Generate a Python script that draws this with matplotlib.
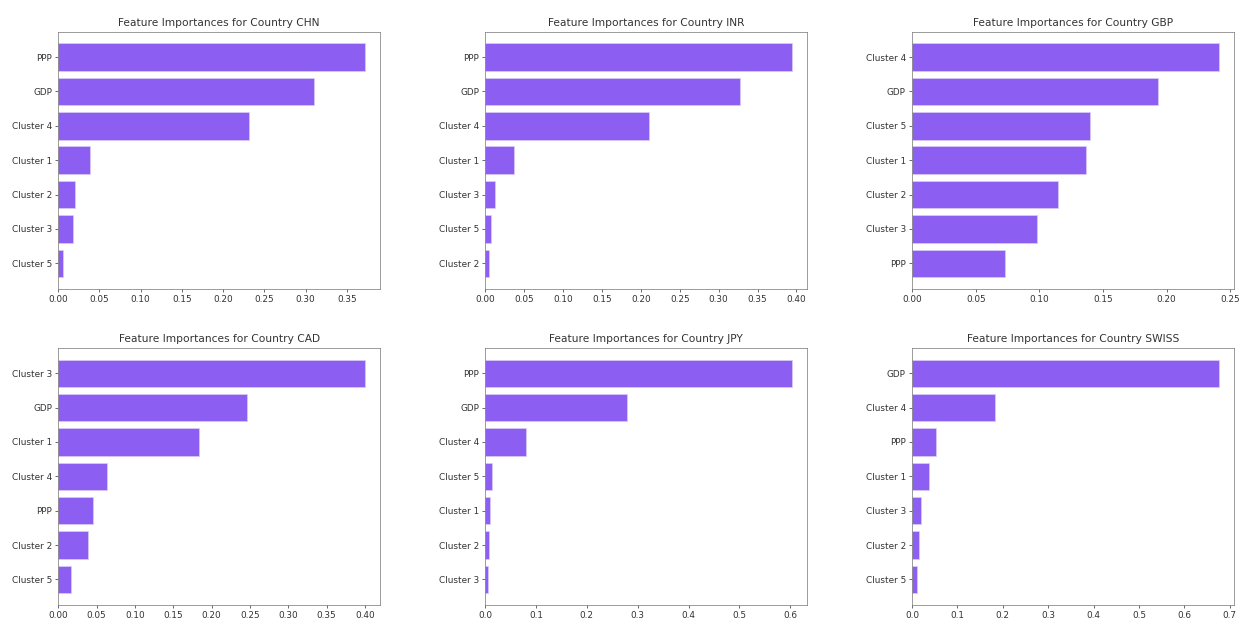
import matplotlib
matplotlib.use("Agg")
import matplotlib.pyplot as plt

# 每个国家的特征重要性（从大到小排列）
countries = ["CHN", "INR", "GBP", "CAD", "JPY", "SWISS"]

chn_features = ["PPP", "GDP", "Cluster 4", "Cluster 1", "Cluster 2", "Cluster 3", "Cluster 5"]
chn_values = [0.372, 0.310, 0.231, 0.038, 0.020, 0.018, 0.006]

inr_features = ["PPP", "GDP", "Cluster 4", "Cluster 1", "Cluster 3", "Cluster 5", "Cluster 2"]
inr_values = [0.394, 0.327, 0.210, 0.037, 0.013, 0.007, 0.005]

gbp_features = ["Cluster 4", "GDP", "Cluster 5", "Cluster 1", "Cluster 2", "Cluster 3", "PPP"]
gbp_values = [0.241, 0.1935, 0.140, 0.137, 0.115, 0.098, 0.073]

cad_features = ["Cluster 3", "GDP", "Cluster 1", "Cluster 4", "PPP", "Cluster 2", "Cluster 5"]
cad_values = [0.400, 0.246, 0.184, 0.063, 0.045, 0.039, 0.017]

jpy_features = ["PPP", "GDP", "Cluster 4", "Cluster 5", "Cluster 1", "Cluster 2", "Cluster 3"]
jpy_values = [0.603, 0.279, 0.080, 0.013, 0.010, 0.007, 0.006]

swiss_features = ["GDP", "Cluster 4", "PPP", "Cluster 1", "Cluster 3", "Cluster 2", "Cluster 5"]
swiss_values = [0.676, 0.183, 0.053, 0.038, 0.020, 0.015, 0.010]

all_features = [chn_features, inr_features, gbp_features, cad_features, jpy_features, swiss_features]
all_values = [chn_values, inr_values, gbp_values, cad_values, jpy_values, swiss_values]

BAR_COLOR = "#8c5ff2"

# 64 dpi 让默认字号和截图里的一致
fig, axes = plt.subplots(2, 3, figsize=(1239 / 64, 621 / 64), dpi=64)
fig.subplots_adjust(left=0.047, right=0.996, top=0.949, bottom=0.026,
                    wspace=0.326, hspace=0.23)

for ax, country, feats, vals in zip(axes.flat, countries, all_features, all_values):
    # barh 从下往上画，所以反转一下让最大的在最上面
    ax.barh(feats[::-1], vals[::-1], color=BAR_COLOR, edgecolor="#d9ccfa", linewidth=0.8)
    ax.set_title(f"Feature Importances for Country {country}", color="#333333")
    ax.tick_params(colors="#333333")
    for sp in ax.spines.values():
        sp.set_edgecolor("#777777")

plt.savefig("out.png", dpi=64)
